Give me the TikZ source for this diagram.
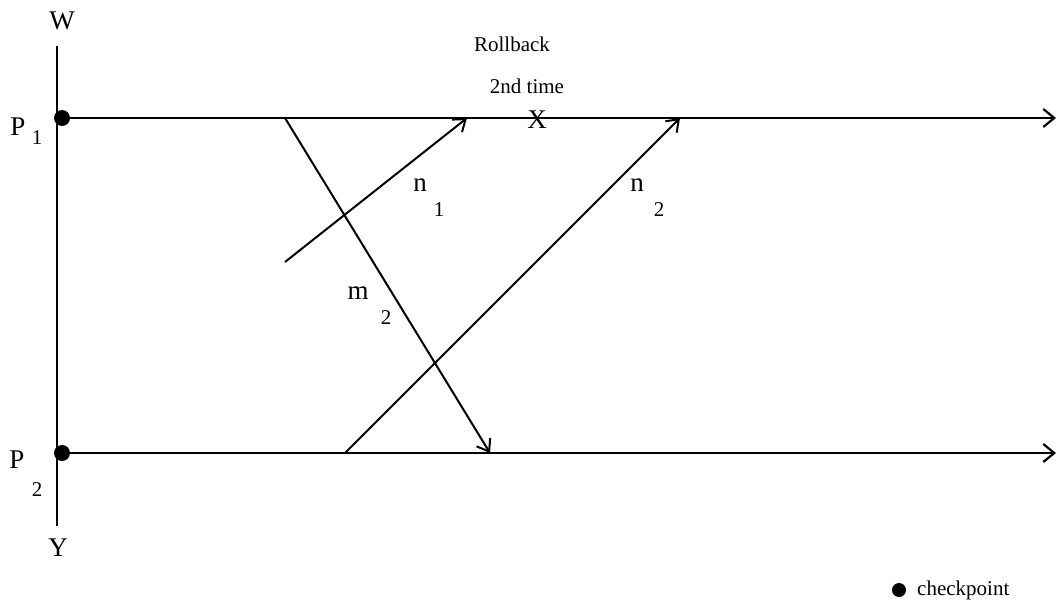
\documentclass[tikz,border=0pt]{standalone}
\usepackage{fontspec}
\setmainfont{Liberation Serif}
\usetikzlibrary{arrows.meta}
\begin{document}
\begin{tikzpicture}[x=1pt,y=-1pt,
  lbl/.style={inner sep=0pt, font=\fontsize{27}{29}\selectfont},
  sml/.style={inner sep=0pt, font=\fontsize{21}{23}\selectfont},
  msg/.style={line width=2pt, -{Straight Barb[length=11pt,width=16pt,line width=2pt]}},
  ln/.style={line width=2.2pt},
  cp/.style={circle, fill=black, inner sep=0pt, minimum size=16pt}]
\useasboundingbox (0,0) rectangle (1058,604);
% axes
\coordinate (top) at (57,46);
\coordinate (bot) at (57,526);
\draw[ln] (top) -- (bot);
\node[lbl] (W) at (62,21) {W};
\node[lbl] (Y) at (58,548) {Y};
% process lines
\node[cp] (c1) at (62,118) {};
\node[cp] (c2) at (62,453) {};
\coordinate (e1) at (1056,118);
\coordinate (e2) at (1056,453);
\draw[ln, -{Straight Barb[length=11pt,width=18pt,line width=2.2pt]}] (c1.center) -- (e1);
\draw[ln, -{Straight Barb[length=11pt,width=18pt,line width=2.2pt]}] (c2.center) -- (e2);
\node[lbl] (P1) at (18,127) {P};
\node[sml] (p1s) at (37,138) {1};
\node[lbl] (P2) at (17,460) {P};
\node[sml] (p2s) at (37,490) {2};
% messages
\coordinate (m2s) at (285,118);
\coordinate (m2e) at (490,453);
\coordinate (n1s) at (285,262);
\coordinate (n1e) at (467,118);
\coordinate (n2s) at (345,453);
\coordinate (n2e) at (680,118);
\draw[msg] (m2s) -- (m2e);
\draw[msg] (n1s) -- (n1e);
\draw[msg] (n2s) -- (n2e);
% labels
\node[lbl] (n1l) at (420,185) {n};
\node[sml] (n1sub) at (439,210) {1};
\node[lbl] (n2l) at (637,185) {n};
\node[sml] (n2sub) at (659,210) {2};
\node[lbl] (m2l) at (358,293) {m};
\node[sml] (m2sub) at (386,318) {2};
\node[lbl] (X) at (537,120) {X};
\node[sml] (rb) at (512,44) {Rollback};
\node[sml] (t2) at (527,86) {2nd time};
% legend
\node[cp, minimum size=14pt] (lc) at (899,590) {};
\node[sml, anchor=west, font=\fontsize{21}{23}\selectfont] (lt) at (917,590) {checkpoint};
\end{tikzpicture}
\end{document}
